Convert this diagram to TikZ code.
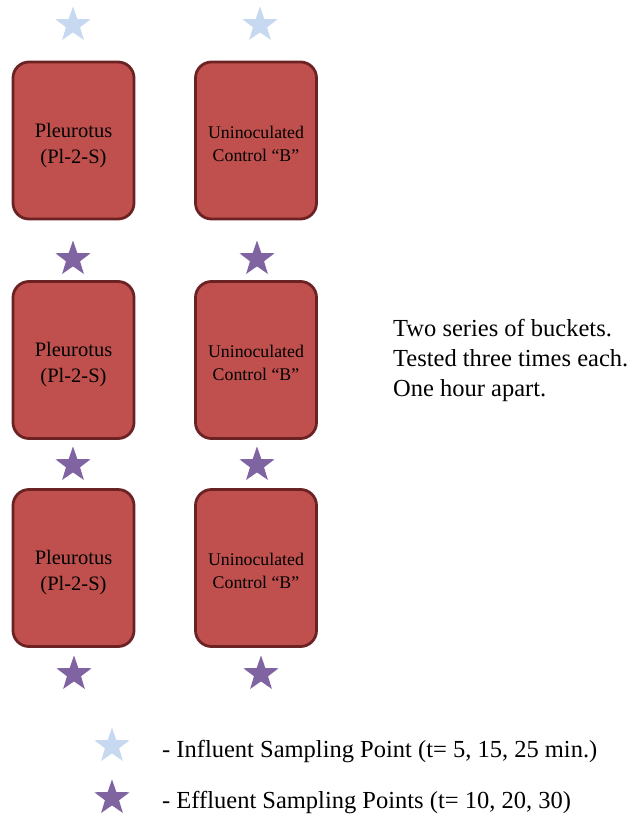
\documentclass[tikz,border=0pt]{standalone}
\usepackage{fontspec}
\setmainfont{Liberation Serif}
\usetikzlibrary{shapes.geometric}
\definecolor{boxfill}{HTML}{C0504D}
\definecolor{boxline}{HTML}{6B2222}
\definecolor{influent}{HTML}{C6D9F1}
\definecolor{effluent}{HTML}{8064A2}
\tikzset{
  bucket/.style={draw=boxline, line width=2.8pt, fill=boxfill, rounded corners=16pt,
    minimum width=121pt, minimum height=157pt, inner sep=0pt},
  pltext/.style={align=center, inner sep=0pt, font=\fontsize{20.5}{26}\selectfont},
  uctext/.style={align=center, inner sep=0pt, font=\fontsize{17.8}{23}\selectfont},
  instar/.style={star, star points=5, star point ratio=2.5, fill=influent, draw=none, minimum size=37pt, inner sep=0pt},
  effstar/.style={star, star points=5, star point ratio=2.5, fill=effluent, draw=none, minimum size=37pt, inner sep=0pt},
  note/.style={anchor=west, inner sep=0pt, font=\fontsize{24.5}{30}\selectfont, align=left}
}
\begin{document}
\begin{tikzpicture}[x=1pt,y=-1pt]
\useasboundingbox (0,0) rectangle (628,816);
% buckets
\node[bucket] (p1) at (73.5,140.5) {};
\node[bucket] (p2) at (73.5,360) {};
\node[bucket] (p3) at (73.5,568) {};
\node[bucket] (c1) at (256,140.5) {};
\node[bucket] (c2) at (256,360) {};
\node[bucket] (c3) at (256,568) {};
\foreach \b in {p1,p2,p3}
  \node[pltext] (\b t) at ([yshift=-5pt]\b.center) {Pleurotus\\(Pl-2-S)};
\foreach \b in {c1,c2,c3}
  \node[uctext] (\b t) at ([yshift=-3pt]\b.center) {Uninoculated\\Control \textquotedblleft B\textquotedblright};
% stars
\node[instar] (i1) at (73,25) {};
\node[instar] (i2) at (260,25) {};
\node[effstar] (e1) at (73,259) {};
\node[effstar] (e2) at (257,259) {};
\node[effstar] (e3) at (73,465) {};
\node[effstar] (e4) at (257,465) {};
\node[effstar] (e5) at (74,674) {};
\node[effstar] (e6) at (261,674) {};
% note
\node[note] (txt) at (393,360) {Two series of buckets.\\Tested three times each.\\One hour apart.};
% legend
\node[instar] (li) at (112,746) {};
\node[effstar] (le) at (112,798) {};
\node[note] (lti) at (162,752) {- Influent Sampling Point (t= 5, 15, 25 min.)};
\node[note] (lte) at (162,803) {- Effluent Sampling Points (t= 10, 20, 30)};
\end{tikzpicture}
\end{document}
